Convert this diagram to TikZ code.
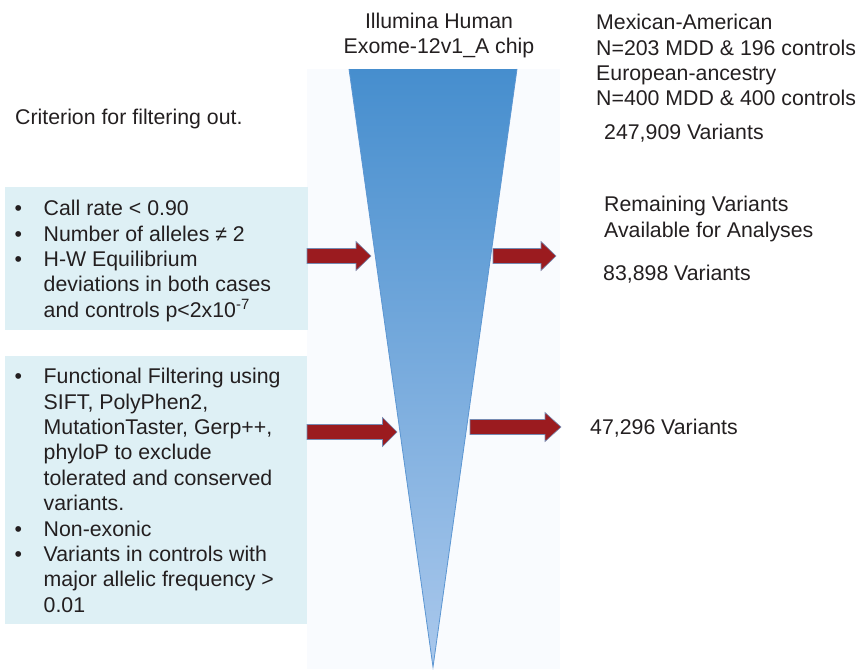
\documentclass[tikz,border=0pt]{standalone}
\usepackage{fontspec}
\setmainfont{Liberation Sans}
\usetikzlibrary{positioning}
\definecolor{txtgray}{RGB}{35,31,32}
\definecolor{panelfill}{RGB}{249,251,254}
\definecolor{boxfill}{RGB}{222,240,245}
\definecolor{funneltop}{RGB}{70,142,206}
\definecolor{funnelbot}{RGB}{170,200,236}
\definecolor{funneledge}{RGB}{92,150,210}
\definecolor{arrowred}{RGB}{155,27,31}
\definecolor{arrowedge}{RGB}{118,138,178}
\tikzset{
  plaintext/.style={align=left, anchor=north west},
  critbox/.style={fill=boxfill, anchor=north west},
  fatarrow/.style={fill=arrowred, draw=arrowedge, line width=0.6pt, line join=miter}
}
\newcommand{\bitem}[1]{\makebox[29pt][l]{\textbullet}#1}
\newcommand{\bcont}[1]{\hspace*{29pt}#1}
% block arrow: tail x, tip x, y, head length
\newcommand{\redarrow}[4]{%
  \filldraw[fatarrow] (#1,#3-7.5) -- (#2-#4,#3-7.5) -- (#2-#4,#3-14.5) -- (#2,#3)
    -- (#2-#4,#3+14.5) -- (#2-#4,#3+7.5) -- (#1,#3+7.5) -- cycle;}
\begin{document}
\begin{tikzpicture}[
  x=1pt, y=-1pt,
  every node/.style={font=\fontsize{21.3}{25.4}\selectfont, inner sep=0pt, text=txtgray}
]
\useasboundingbox (0,0) rectangle (858,669);
% light panel behind the funnel
\fill[panelfill] (307,69) rectangle (560,669);
% funnel
\shade[top color=funneltop, bottom color=funnelbot] (349,69) -- (517,69) -- (433,667) -- cycle;
\draw[funneledge, line width=0.8pt] (349,69) -- (433,667) -- (517,69);

\node[align=center, anchor=north] (chip) at (439,12.7) {Illumina Human\\Exome-12v1\_A chip};
\node[plaintext] (cohorts) at (596,14) {Mexican-American\\N=203 MDD \& 196 controls\\European-ancestry\\N=400 MDD \& 400 controls};
\node[plaintext] (total) at (604,124) {247,909 Variants};
\node[plaintext] (criterion) at (15,109) {Criterion for filtering out.};

% filter boxes
\node[critbox, minimum width=303pt, minimum height=143pt] (qcbox) at (5,187) {};
\node[plaintext] (qctext) at (14.5,200) {%
  \bitem{Call rate < 0.90}\\
  \bitem{Number of alleles ≠ 2}\\
  \bitem{H-W Equilibrium}\\
  \bcont{deviations in both cases}\\
  \bcont{and controls p<2x10\textsuperscript{-7}}};
\node[critbox, minimum width=302pt, minimum height=268pt] (funcbox) at (5,356) {};
\node[plaintext] (functext) at (14.5,368) {%
  \bitem{Functional Filtering using}\\
  \bcont{SIFT, PolyPhen2,}\\
  \bcont{MutationTaster, Gerp++,}\\
  \bcont{phyloP to exclude}\\
  \bcont{tolerated and conserved}\\
  \bcont{variants.}\\
  \bitem{Non-exonic}\\
  \bitem{Variants in controls with}\\
  \bcont{major allelic frequency >}\\
  \bcont{0.01}};

\node[plaintext] (remaining) at (604,196) {Remaining Variants\\Available for Analyses};
\node[plaintext] (count1) at (603,265) {83,898 Variants};
\node[plaintext] (count2) at (590,419) {47,296 Variants};

% arrows in and out of the funnel
\redarrow{307}{371}{256}{15}
\redarrow{493}{556}{256}{15}
\redarrow{307}{397}{432}{14.5}
\redarrow{470}{561}{427}{16}
\end{tikzpicture}
\end{document}
